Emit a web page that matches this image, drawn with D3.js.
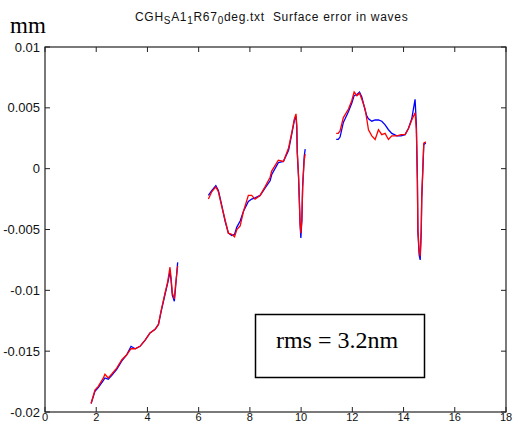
<!DOCTYPE html>
<html><head><meta charset="utf-8">
<script src="https://cdn.jsdelivr.net/npm/d3@7"></script>
<style>html,body{margin:0;padding:0;background:#fff;overflow:hidden}</style>
</head><body>
<svg id="c" width="518" height="424"></svg>
<script>
const xTicks = [0,2,4,6,8,10,12,14,16,18];
const yTicks = [-0.02,-0.015,-0.01,-0.005,0,0.005,0.01];
const yTickLabels = ["-0.02","-0.015","-0.01","-0.005","0","0.005","0.01"];

const seg1X = [1.80,1.95,2.08,2.28,2.34,2.47,2.60,2.80,3.00,3.19,3.36,3.52,3.71,3.91,4.10,4.30,4.43,4.53,4.69,4.79,4.88,4.92,4.97,5.05,5.10,5.18];
const seg1Red = [-0.0193,-0.0182,-0.0179,-0.0172,-0.0169,-0.0172,-0.0169,-0.0164,-0.0157,-0.0153,-0.0148,-0.0148,-0.0146,-0.0141,-0.0135,-0.0132,-0.0128,-0.0117,-0.0102,-0.0093,-0.0081,-0.0089,-0.0102,-0.0107,-0.0095,-0.0080];
const seg1Blue = [-0.0193,-0.0183,-0.0180,-0.0174,-0.0172,-0.0173,-0.0170,-0.0165,-0.0158,-0.0153,-0.0146,-0.0148,-0.0146,-0.0141,-0.0135,-0.0132,-0.0128,-0.0118,-0.0103,-0.0094,-0.0085,-0.0091,-0.0104,-0.0109,-0.0097,-0.0077];

const seg2X = [6.38,6.51,6.67,6.77,6.90,7.03,7.16,7.29,7.40,7.49,7.62,7.75,7.94,8.07,8.20,8.40,8.59,8.79,8.85,9.11,9.31,9.51,9.64,9.74,9.80,9.83,9.85,9.90,9.93,9.96,9.99,10.03,10.06,10.12,10.16];
const seg2Red = [-0.0025,-0.0019,-0.0015,-0.0019,-0.0031,-0.0042,-0.0053,-0.0054,-0.0056,-0.0050,-0.0047,-0.0035,-0.0022,-0.0022,-0.0025,-0.0022,-0.0015,-0.0007,-0.0002,0.0007,0.0006,0.0017,0.0030,0.0041,0.0045,0.0036,0.0014,-0.0006,-0.0025,-0.0045,-0.0053,-0.0042,-0.0015,0.0007,0.0012];
const seg2Blue = [-0.0022,-0.0018,-0.0014,-0.0018,-0.0030,-0.0043,-0.0053,-0.0055,-0.0054,-0.0048,-0.0043,-0.0035,-0.0027,-0.0025,-0.0024,-0.0022,-0.0016,-0.0010,-0.0005,0.0005,0.0006,0.0015,0.0029,0.0040,0.0043,0.0034,0.0013,-0.0007,-0.0026,-0.0046,-0.0057,-0.0042,-0.0015,0.0010,0.0016];

const seg3X = [11.37,11.45,11.52,11.65,11.85,11.98,12.07,12.18,12.28,12.37,12.50,12.57,12.63,12.76,12.89,13.02,13.15,13.28,13.41,13.54,13.74,13.90,14.06,14.19,14.32,14.45,14.50,14.54,14.56,14.61,14.65,14.69,14.71,14.75,14.79,14.87];
const seg3Red = [0.0029,0.0029,0.0031,0.0042,0.0049,0.0056,0.0063,0.0060,0.0062,0.0057,0.0049,0.0040,0.0032,0.0027,0.0024,0.0032,0.0028,0.0029,0.0024,0.0027,0.0027,0.0028,0.0028,0.0033,0.0040,0.0046,0.0032,-0.0009,-0.0050,-0.0068,-0.0072,-0.0050,-0.0023,-0.0001,0.0021,0.0022];
const seg3Blue = [0.0024,0.0024,0.0026,0.0038,0.0047,0.0054,0.0060,0.0061,0.0063,0.0059,0.0048,0.0043,0.0041,0.0039,0.0040,0.0040,0.0039,0.0036,0.0032,0.0029,0.0027,0.0027,0.0028,0.0033,0.0041,0.0057,0.0036,-0.0009,-0.0052,-0.0071,-0.0075,-0.0052,-0.0025,-0.0003,0.0020,0.0021];

const rmsText = "rms = 3.2nm";

const svg = d3.select("#c");
const L = 45, R = 506, T = 47, B = 412;
const x = d3.scaleLinear().domain([0,18]).range([L,R]);
const y = d3.scaleLinear().domain([-0.02,0.01]).range([B,T]);

const axCol = "#222";
const sans = "Liberation Sans, Arial, sans-serif";
svg.append("rect").attr("x",L).attr("y",T).attr("width",R-L).attr("height",B-T)
  .attr("fill","none").attr("stroke",axCol).attr("stroke-width",1.2);

const tl = 5;
xTicks.forEach(t=>{
  svg.append("line").attr("x1",x(t)).attr("x2",x(t)).attr("y1",B).attr("y2",B-tl).attr("stroke",axCol);
  svg.append("line").attr("x1",x(t)).attr("x2",x(t)).attr("y1",T).attr("y2",T+tl).attr("stroke",axCol);
  svg.append("text").attr("x",x(t)).attr("y",421).attr("text-anchor","middle")
    .attr("font-family",sans).attr("font-size",11).attr("fill","#111").text(t);
});
yTicks.forEach((t,i)=>{
  svg.append("line").attr("x1",L).attr("x2",L+tl).attr("y1",y(t)).attr("y2",y(t)).attr("stroke",axCol);
  svg.append("line").attr("x1",R).attr("x2",R-tl).attr("y1",y(t)).attr("y2",y(t)).attr("stroke",axCol);
  svg.append("text").attr("x",L-5).attr("y",y(t)+4.5).attr("text-anchor","end")
    .attr("font-family",sans).attr("font-size",13).attr("fill","#111").text(yTickLabels[i]);
});

const line = d3.line().x(d=>x(d[0])).y(d=>y(d[1]));
const segs = [[seg1X,seg1Blue,seg1Red],[seg2X,seg2Blue,seg2Red],[seg3X,seg3Blue,seg3Red]];
segs.forEach(s=>{
  svg.append("path").attr("d",line(d3.zip(s[0],s[1]))).attr("fill","none").attr("stroke","#0000ff").attr("stroke-width",1.3);
});
segs.forEach(s=>{
  svg.append("path").attr("d",line(d3.zip(s[0],s[2]))).attr("fill","none").attr("stroke","#ff0000").attr("stroke-width",1.3);
});

const title = svg.append("text").attr("x",135).attr("y",21)
  .attr("font-family",sans).attr("font-size",12).attr("letter-spacing",0.7).attr("fill","#111")
  .attr("style","white-space:pre");
const parts = [["CGH",0],["S",1],["A1",0],["1",1],["R67",0],["0",1],["deg.txt  Surface error in waves",0]];
parts.forEach(p=>{
  title.append("tspan").attr("baseline-shift", p[1] ? "-3" : "0")
    .attr("font-size", p[1] ? 10 : 12).text(p[0]);
});

svg.append("text").attr("x",10).attr("y",33)
  .attr("font-family","Liberation Serif, Times New Roman, serif").attr("font-size",23).attr("fill","#000").text("mm");

svg.append("rect").attr("x",255.5).attr("y",314.5).attr("width",169).attr("height",63)
  .attr("fill","#fff").attr("stroke","#000").attr("stroke-width",1.5);
svg.append("text").attr("x",337).attr("y",348).attr("text-anchor","middle")
  .attr("font-family","Liberation Serif, Times New Roman, serif").attr("font-size",24).attr("fill","#000").text(rmsText);
</script>
</body></html>
